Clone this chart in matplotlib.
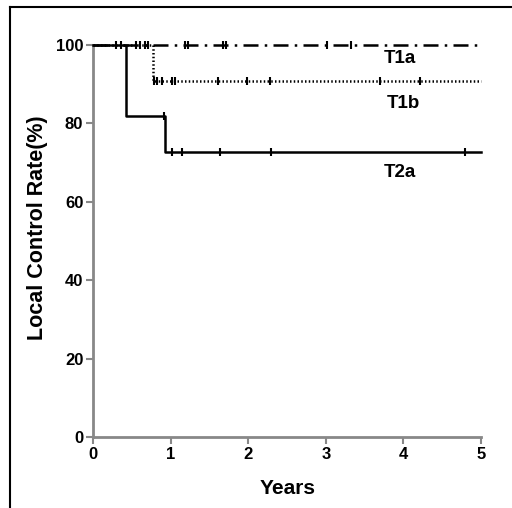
import matplotlib
matplotlib.use("Agg")
import matplotlib.pyplot as plt
from matplotlib.lines import Line2D

plt.rcParams['font.family'] = ['Liberation Sans', 'DejaVu Sans']

# Kaplan-Meier step data (years, %)
t1a_times = [0.0, 5.0]
t1a_surv = [100.0, 100.0]
t1a_cens = [0.30, 0.36, 0.55, 0.61, 0.67, 0.71, 1.19, 1.23, 1.67, 1.72, 3.02, 3.32]

t1b_times = [0.0, 0.77, 5.0]
t1b_surv = [100.0, 90.9, 90.9]
t1b_cens = [0.78, 0.83, 0.89, 1.02, 1.06, 1.61, 1.98, 2.28, 3.70, 4.21]

t2a_times = [0.0, 0.42, 0.43, 0.93, 5.0]
t2a_surv = [100.0, 90.9, 81.8, 72.7, 72.7]
t2a_cens = [0.92, 1.02, 1.15, 1.64, 2.29, 4.79]

labels = ["T1a", "T1b", "T2a"]
label_pos = [(3.96, 96.5), (4.0, 85.0), (3.96, 67.5)]

xticks = [0, 1, 2, 3, 4, 5]
yticks = [0, 20, 40, 60, 80, 100]

fig = plt.figure(figsize=(5.12, 5.08), dpi=100)
fig.patch.set_facecolor('white')
ax = fig.add_axes([93/512, 1-437/508, (481-93)/512, (437-45)/508])

def step_value(times, surv, t):
    v = surv[0]
    for ti, si in zip(times, surv):
        if ti <= t:
            v = si
    return v

lw = 1.8
ax.step(t2a_times, t2a_surv, where='post', color='black', lw=lw, clip_on=False, zorder=3)
ax.step(t1b_times, t1b_surv, where='post', color='black', lw=lw, linestyle=(0, (0.6, 0.9)), clip_on=False, zorder=3)
ax.step(t1a_times, t1a_surv, where='post', color='black', lw=lw, linestyle=(0, (6, 2.5, 1, 2.5)), clip_on=False, zorder=3)

for times, surv, cens in [(t1a_times, t1a_surv, t1a_cens), (t1b_times, t1b_surv, t1b_cens), (t2a_times, t2a_surv, t2a_cens)]:
    ys = [step_value(times, surv, c) for c in cens]
    ax.plot(cens, ys, linestyle='none', marker='|', markersize=6, markeredgewidth=1.5, color='black', clip_on=False, zorder=4)

for lab, (x, y) in zip(labels, label_pos):
    ax.text(x, y, lab, fontsize=13.5, fontweight='bold', ha='center', va='center')

ax.set_xlim(0, 5)
ax.set_ylim(0, 100)
ax.set_xticks(xticks)
ax.set_yticks(yticks)
ax.tick_params(axis='both', direction='out', length=5, width=1.5, color='#888888', labelsize=12, pad=2)
for lbl in ax.get_xticklabels() + ax.get_yticklabels():
    lbl.set_fontweight('bold')
for s in ['top', 'right']:
    ax.spines[s].set_visible(False)
for s in ['left', 'bottom']:
    ax.spines[s].set_color('#888888')
    ax.spines[s].set_linewidth(2)

ax.set_xlabel('Years', fontsize=15, fontweight='bold')
ax.xaxis.set_label_coords((288-93)/388, (437-479)/392)
ax.set_ylabel('Local Control Rate(%)', fontsize=15.5, fontweight='bold')
ax.yaxis.set_label_coords((48-93)/388, (437-228)/392)

# figure frame (top and left border lines)
fig.add_artist(Line2D([10/512, 10/512], [0, 1-7/508], color='black', lw=1.5, transform=fig.transFigure))
fig.add_artist(Line2D([10/512, 1], [1-7/508, 1-7/508], color='black', lw=1.5, transform=fig.transFigure))

fig.savefig('out.png', dpi=100, facecolor='white')
